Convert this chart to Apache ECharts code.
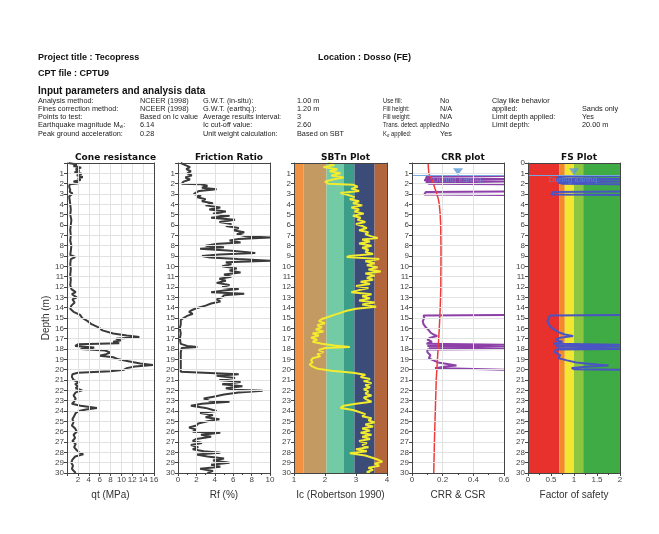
<!DOCTYPE html>
<html><head><meta charset="utf-8">
<script src="https://cdn.jsdelivr.net/npm/echarts@6/dist/echarts.min.js"></script>
<style>html,body{margin:0;padding:0;background:#fff}#c{width:659px;height:534px}</style>
</head><body><div id="c"></div>
<script>
// ---------- DATA (depth m, value) ----------
const qtProfile = [[0.0,0.3],[0.15,1.8],[0.3,1.2],[0.45,2.6],[0.6,1.6],[0.75,2.3],[0.9,1.4],[1.05,2.7],[1.2,1.8],[1.35,2.9],[1.5,2.0],[1.65,2.5],[1.8,1.2],[1.95,2.2],[2.05,0.5],[2.3,0.4],[2.6,0.6],[2.8,0.5],[2.95,1.0],[3.1,0.9],[3.25,0.4],[3.6,0.5],[4.0,0.6],[4.5,0.7],[5.0,0.6],[5.5,0.8],[6.0,0.7],[6.5,0.6],[7.0,0.7],[7.5,0.6],[8.0,0.8],[8.5,0.7],[8.9,0.6],[9.1,1.5],[9.3,0.7],[9.8,0.6],[10.3,0.7],[10.8,0.6],[11.3,0.7],[11.8,0.6],[12.2,0.8],[12.5,1.6],[12.7,0.9],[13.0,1.8],[13.2,1.0],[13.5,1.4],[13.8,0.8],[14.1,0.6],[14.4,1.2],[14.7,2.4],[15.0,2.8],[15.3,3.8],[15.6,4.5],[15.9,5.8],[16.2,6.5],[16.5,8.5],[16.7,11.0],[16.85,13.3],[17.0,9.0],[17.15,10.0],[17.3,8.5],[17.45,9.6],[17.55,2.0],[17.7,1.5],[17.85,5.0],[18.0,2.5],[18.15,7.0],[18.35,8.0],[18.5,7.2],[18.65,6.0],[18.8,8.5],[19.0,9.5],[19.2,11.5],[19.4,13.5],[19.55,15.8],[19.7,12.5],[19.85,11.0],[20.0,10.5],[20.15,8.0],[20.3,2.0],[20.45,1.0],[20.7,0.9],[21.0,1.2],[21.2,2.2],[21.4,1.5],[21.6,2.0],[21.8,1.6],[22.0,2.8],[22.2,1.6],[22.5,1.2],[22.8,1.6],[23.1,1.3],[23.3,0.9],[23.5,2.5],[23.7,5.5],[23.85,3.5],[24.0,2.2],[24.2,1.6],[24.5,1.3],[24.8,1.0],[25.1,1.2],[25.4,0.9],[25.7,1.5],[26.0,1.8],[26.3,1.2],[26.6,1.5],[26.9,1.0],[27.2,1.6],[27.5,1.3],[27.8,1.8],[28.0,2.2],[28.2,3.0],[28.4,1.5],[28.7,1.0],[29.0,0.8],[29.3,1.1],[29.6,0.9],[30.0,1.6]];

const rfProfile = [[0.0,0.3],[0.2,0.8],[0.4,1.3],[0.6,0.9],[0.8,1.4],[1.0,1.0],[1.2,1.5],[1.4,0.8],[1.6,1.3],[1.8,0.6],[2.0,0.4],[2.05,2.5],[2.2,3.2],[2.4,2.6],[2.55,4.2],[2.7,2.3],[2.85,2.0],[3.0,1.7],[3.15,2.5],[3.3,2.0],[3.5,3.0],[3.7,2.6],[3.9,3.8],[4.1,3.0],[4.3,4.6],[4.5,3.4],[4.7,5.2],[4.9,3.8],[5.1,5.6],[5.3,3.6],[5.5,6.2],[5.7,4.5],[5.9,5.8],[6.1,5.2],[6.3,6.6],[6.5,6.0],[6.7,7.2],[6.9,6.4],[7.1,7.4],[7.2,10.0],[7.35,6.6],[7.5,5.6],[7.7,6.8],[7.85,4.0],[8.0,3.0],[8.15,5.0],[8.3,2.4],[8.5,5.8],[8.7,8.4],[8.85,4.5],[9.0,2.6],[9.15,3.5],[9.3,6.5],[9.45,10.0],[9.6,5.2],[9.8,5.8],[10.0,4.8],[10.2,6.4],[10.4,5.6],[10.6,6.8],[10.8,5.0],[11.0,5.8],[11.2,4.5],[11.4,5.2],[11.6,4.2],[11.8,5.6],[12.0,4.8],[12.2,6.6],[12.35,5.0],[12.5,3.6],[12.65,7.2],[12.8,5.0],[13.0,4.8],[13.2,4.2],[13.4,4.6],[13.6,3.6],[13.8,3.0],[14.0,2.2],[14.2,1.6],[14.4,1.2],[14.6,1.6],[14.8,1.0],[15.0,0.6],[15.2,0.3],[15.6,0.3],[16.0,0.2],[16.5,0.3],[17.0,0.2],[17.5,0.3],[17.7,1.0],[17.8,2.1],[17.9,0.4],[18.3,0.3],[18.8,0.3],[19.3,0.3],[19.8,0.3],[20.2,0.3],[20.35,0.5],[20.45,6.6],[20.6,4.2],[20.8,6.2],[21.0,4.5],[21.2,6.8],[21.4,4.8],[21.6,7.0],[21.8,5.2],[21.95,6.2],[22.05,9.2],[22.2,6.6],[22.4,5.0],[22.6,4.0],[22.8,2.8],[23.0,3.4],[23.1,5.6],[23.3,2.6],[23.5,1.4],[23.7,3.0],[23.9,3.8],[24.0,4.2],[24.2,2.4],[24.4,3.8],[24.6,3.0],[24.8,4.5],[25.0,3.2],[25.2,2.2],[25.4,2.0],[25.6,1.2],[25.8,2.0],[26.0,1.6],[26.1,4.6],[26.3,2.5],[26.5,3.6],[26.7,2.0],[26.9,1.6],[27.1,2.6],[27.3,1.4],[27.5,2.2],[27.7,1.6],[27.9,2.8],[28.05,4.6],[28.2,2.0],[28.4,3.2],[28.6,5.0],[28.8,3.8],[29.0,5.6],[29.2,3.6],[29.4,4.6],[29.6,2.4],[29.8,3.8],[30.0,3.2]];

const icProfile = [[0.0,2.1],[0.2,2.3],[0.4,1.95],[0.6,2.4],[0.8,2.15],[1.0,2.5],[1.2,2.2],[1.4,2.6],[1.6,2.25],[1.8,2.0],[2.0,2.1],[2.1,2.9],[2.3,3.05],[2.5,2.85],[2.7,3.1],[2.9,2.5],[3.1,2.75],[3.3,2.95],[3.5,2.8],[3.7,3.1],[3.9,2.9],[4.1,3.2],[4.3,2.85],[4.5,3.1],[4.7,2.95],[4.9,3.25],[5.1,2.9],[5.3,3.15],[5.5,3.05],[5.7,3.3],[5.9,3.0],[6.1,3.2],[6.3,3.35],[6.5,3.1],[6.7,3.4],[6.9,3.3],[7.1,3.5],[7.25,3.7],[7.4,3.2],[7.6,3.45],[7.8,3.1],[8.0,3.5],[8.2,3.2],[8.4,3.4],[8.6,3.3],[8.8,3.55],[9.0,2.8],[9.1,2.7],[9.3,3.75],[9.5,3.3],[9.7,3.6],[9.9,3.35],[10.1,3.7],[10.3,3.4],[10.5,3.8],[10.7,3.3],[10.9,3.6],[11.1,3.35],[11.3,3.55],[11.5,3.15],[11.7,3.45],[11.9,3.0],[12.1,3.4],[12.3,3.1],[12.5,2.85],[12.7,3.5],[12.9,3.2],[13.1,3.45],[13.3,3.1],[13.5,3.6],[13.7,3.2],[13.9,3.65],[14.1,3.0],[14.3,2.7],[14.5,2.5],[14.7,2.3],[14.9,2.1],[15.1,1.9],[15.3,1.8],[15.5,2.0],[15.7,1.75],[15.9,1.9],[16.1,1.7],[16.3,1.95],[16.5,1.6],[16.7,1.8],[16.9,1.55],[17.1,1.75],[17.3,1.6],[17.5,1.9],[17.65,2.3],[17.8,2.8],[17.9,2.0],[18.1,1.8],[18.3,1.95],[18.5,1.75],[18.7,1.85],[18.9,1.6],[19.1,1.55],[19.3,1.6],[19.5,1.5],[19.7,1.6],[19.9,1.75],[20.1,2.2],[20.3,2.9],[20.5,3.3],[20.7,3.15],[20.9,3.45],[21.1,3.25],[21.3,3.5],[21.5,3.3],[21.7,3.45],[21.9,3.25],[22.1,3.4],[22.3,3.3],[22.5,3.5],[22.7,3.25],[22.9,3.35],[23.1,3.5],[23.3,3.0],[23.5,2.6],[23.7,2.5],[23.9,2.9],[24.1,3.1],[24.3,3.3],[24.5,3.2],[24.7,3.5],[24.9,3.4],[25.1,3.6],[25.3,3.3],[25.5,3.55],[25.7,3.2],[25.9,3.45],[26.1,3.15],[26.3,3.5],[26.5,3.2],[26.7,3.45],[26.9,3.1],[27.1,3.35],[27.3,3.2],[27.5,3.4],[27.7,3.0],[27.9,3.35],[28.1,2.8],[28.3,3.3],[28.5,3.5],[28.7,3.7],[28.9,3.85],[29.1,3.6],[29.3,3.75],[29.5,3.4],[29.7,3.55],[29.9,3.35],[30.0,3.45]];

const csrProfile = [[0,0.105],[0.5,0.107],[1.0,0.11],[1.5,0.125],[2.0,0.14],[2.5,0.15],[3.0,0.162],[3.5,0.172],[4.0,0.178],[5.0,0.184],[6.0,0.187],[7.0,0.188],[8.0,0.189],[9.0,0.189],[10.0,0.189],[11.0,0.188],[12.0,0.188],[13.0,0.186],[14.0,0.184],[15.0,0.181],[16.0,0.178],[17.0,0.174],[18.0,0.17],[19.0,0.166],[20.0,0.162],[21.0,0.158],[22.0,0.156],[23.0,0.154],[24.0,0.152],[25.0,0.15],[26.0,0.148],[27.0,0.146],[28.0,0.145],[29.0,0.143],[30.0,0.142]];

const crrProfile = [[1.25,0.6],[1.3,0.09],[1.4,0.12],[1.5,0.085],[1.55,0.6],[1.6,0.6],[1.65,0.08],[1.75,0.1],[1.8,0.6],[1.85,0.6],[1.9,0.09],[2.0,0.11],[2.05,0.6],null,[2.75,0.6],[2.8,0.09],[3.05,0.08],[3.1,0.6],null,[14.7,0.6],[14.75,0.075],[15.0,0.08],[15.3,0.07],[15.6,0.075],[15.9,0.09],[16.2,0.11],[16.4,0.12],[16.6,0.14],[16.75,0.165],[16.9,0.12],[17.1,0.1],[17.3,0.13],[17.5,0.095],[17.6,0.6],[17.7,0.1],[17.75,0.6],[17.85,0.6],[17.9,0.11],[18.0,0.6],[18.05,0.1],[18.3,0.1],[18.6,0.12],[18.9,0.11],[19.1,0.14],[19.3,0.17],[19.5,0.25],[19.6,0.29],[19.7,0.22],[19.85,0.15],[19.95,0.16],[20.0,0.6]];

const fsProfile = [[1.25,2],[1.3,0.65],[1.4,0.75],[1.5,0.62],[1.55,2],[1.6,2],[1.65,0.6],[1.75,0.7],[1.8,2],[1.85,2],[1.9,0.65],[2.0,0.75],[2.05,2],null,[2.75,2],[2.8,0.55],[3.05,0.5],[3.1,2],null,[14.7,2],[14.75,0.48],[15.0,0.45],[15.3,0.42],[15.6,0.45],[15.9,0.5],[16.2,0.6],[16.4,0.68],[16.6,0.8],[16.75,0.98],[16.9,0.7],[17.1,0.6],[17.3,0.75],[17.5,0.55],[17.6,2],[17.7,0.6],[17.75,2],[17.85,2],[17.9,0.65],[18.0,2],[18.05,0.6],[18.3,0.58],[18.6,0.7],[18.9,0.66],[19.1,0.85],[19.3,1.05],[19.5,1.5],[19.6,1.75],[19.7,1.35],[19.85,0.95],[19.95,1.0],[20.0,2]];

// SBTn zone boundaries (Ic) and FS band boundaries
const sbtBounds = [1, 1.31, 2.05, 2.6, 2.95, 3.6, 4];
const sbtColors = ['#f0923f', '#c39a62', '#72cba5', '#3c9d88', '#3b4c78', '#b3663c'];
const fsBounds = [0, 0.68, 0.8, 1.0, 1.2, 2];
const fsColors = ['#e8302d', '#f08a2b', '#f2e633', '#8cc641', '#3eab45'];

const gwtEarthquake = 1.2;      // m
const markerDepth = 0.85;       // m
const crrMarkerX = 0.3;
const fsMarkerX = 1.0;

// Header text
const headerTitles = [['Project title : Tecopress', 38, 58], ['Location : Dosso (FE)', 318, 58], ['CPT file : CPTU9', 38, 74]];
const paramCols = [
  {x: 38, rows: ['Analysis method:', 'Fines correction method:', 'Points to test:', 'Earthquake magnitude M{s|w}:', 'Peak ground acceleration:']},
  {x: 140, rows: ['NCEER (1998)', 'NCEER (1998)', 'Based on Ic value', '6.14', '0.28']},
  {x: 203, rows: ['G.W.T. (in-situ):', 'G.W.T. (earthq.):', 'Average results interval:', 'Ic cut-off value:', 'Unit weight calculation:']},
  {x: 297, rows: ['1.00 m', '1.20 m', '3', '2.60', 'Based on SBT']},
  {x: 383, rows: ['Use fill:', 'Fill height:', 'Fill weight:', 'Trans. detect. applied:', 'K{s|σ} applied:'], narrow: true},
  {x: 440, rows: ['No', 'N/A', 'N/A', 'No', 'Yes']},
  {x: 492, rows: ['Clay like behavior', 'applied:', 'Limit depth applied:', 'Limit depth:', '']},
  {x: 582, rows: ['', 'Sands only', 'Yes', '20.00 m', '']}
];
const rowY = [101, 109, 117, 125, 133.5];

// ---------- LAYOUT ----------
const TOP = 163, H = 310;
const panels = [
  {left: 67, width: 87, title: 'Cone resistance', xName: 'qt (MPa)', min: 0, max: 16, interval: 2, minor: 0, hideZero: true, grid: true},
  {left: 178, width: 92, title: 'Friction Ratio', xName: 'Rf (%)', min: 0, max: 10, interval: 2, minor: 2, grid: true},
  {left: 294, width: 93, title: 'SBTn Plot', xName: 'Ic (Robertson 1990)', min: 1, max: 4, interval: 1, minor: 0, grid: false},
  {left: 412, width: 92, title: 'CRR plot', xName: 'CRR & CSR', min: 0, max: 0.6, interval: 0.2, minor: 2, grid: true},
  {left: 528, width: 92, title: 'FS Plot', xName: 'Factor of safety', min: 0, max: 2, interval: 0.5, minor: 2, grid: false}
];

const FONT = '"Liberation Sans", Arial, sans-serif';
const grids = [], xAxes = [], yAxes = [], titles = [];
panels.forEach((p, i) => {
  grids.push({left: p.left, top: TOP, width: p.width, height: H, containLabel: false});
  titles.push({text: p.title, left: p.left + p.width / 2, top: 148, textAlign: 'center',
    textStyle: {fontSize: 9, fontWeight: 'bold', fontFamily: '"DejaVu Sans", Verdana, sans-serif', color: '#111'}});
  xAxes.push({gridIndex: i, type: 'value', position: 'bottom', min: p.min, max: p.max, interval: p.interval, z: 10,
    axisLine: {show: true, onZero: false, lineStyle: {color: '#444', width: 1}},
    axisTick: {show: true, inside: false, length: 3, lineStyle: {color: '#444'}},
    minorTick: {show: p.minor > 0, splitNumber: p.minor || 5, length: 2, lineStyle: {color: '#444'}},
    axisLabel: {fontSize: 8, color: '#444', margin: 3, fontFamily: FONT,
      formatter: v => (p.hideZero && v === 0) ? '' : String(v)},
    splitLine: {show: p.grid, lineStyle: {color: '#e2e2e2', width: 1}},
    name: p.xName, nameLocation: 'middle', nameGap: 17,
    nameTextStyle: {fontSize: 10, color: '#333', fontFamily: FONT}});
  xAxes.push({gridIndex: i, type: 'value', position: 'top', min: p.min, max: p.max, z: 10,
    axisLine: {show: true, onZero: false, lineStyle: {color: '#444', width: 1}},
    axisTick: {show: false}, axisLabel: {show: false}, splitLine: {show: false}});
  yAxes.push({gridIndex: i, type: 'value', inverse: true, min: 0, max: 30, interval: 1, z: 10,
    axisLine: {show: true, onZero: false, lineStyle: {color: '#444', width: 1}},
    axisTick: {show: true, inside: false, length: 3, lineStyle: {color: '#444'}},
    axisLabel: {fontSize: 8, color: '#444', margin: 3, fontFamily: FONT,
      formatter: v => (i < 4 && v === 0) ? '' : String(v)},
    splitLine: {show: p.grid, lineStyle: {color: '#e2e2e2', width: 1}},
    name: i === 0 ? 'Depth (m)' : '', nameLocation: 'middle', nameGap: 16, nameRotate: 90,
    nameTextStyle: {fontSize: 10, color: '#333', fontFamily: FONT}});
  yAxes.push({gridIndex: i, type: 'value', position: 'right', inverse: true, min: 0, max: 30, z: 10,
    axisLine: {show: true, onZero: false, lineStyle: {color: '#444', width: 1}},
    axisTick: {show: false}, axisLabel: {show: false}, splitLine: {show: false}});
});

const toXY = arr => arr.map(d => d === null ? ['-', '-'] : [d[1], d[0]]);
const bandAreas = (bounds, colors) => colors.map((c, k) => [
  {xAxis: bounds[k], yAxis: 0, itemStyle: {color: c, opacity: 1}},
  {xAxis: bounds[k + 1], yAxis: 30}
]);
const lineS = (idx, data, color, width, z) => ({type: 'line', xAxisIndex: idx * 2, yAxisIndex: idx * 2,
  data: toXY(data), showSymbol: false, symbol: 'none', clip: true, connectNulls: false, z: z || 3,
  lineStyle: {color: color, width: width}, silent: true, animation: false});

const series = [
  lineS(0, qtProfile, '#3a3a3a', 2),
  lineS(1, rfProfile, '#3a3a3a', 2),
  {type: 'line', xAxisIndex: 4, yAxisIndex: 4, data: [], z: 1, silent: true,
    markArea: {silent: true, data: bandAreas(sbtBounds, sbtColors)}},
  lineS(2, icProfile, '#f3ec2e', 2),
  Object.assign(lineS(3, csrProfile, '#f03a3a', 1.5, 4), {
    markLine: {silent: true, symbol: 'none', label: {show: false},
      lineStyle: {color: '#7aa6e0', width: 1, type: 'solid'}, data: [{yAxis: gwtEarthquake}]}}),
  lineS(3, crrProfile, '#8c40a8', 2),
  {type: 'line', xAxisIndex: 8, yAxisIndex: 8, data: [], z: 1, silent: true,
    markArea: {silent: true, data: bandAreas(fsBounds, fsColors)}},
  Object.assign(lineS(4, fsProfile, '#4a54c2', 2), {
    markLine: {silent: true, symbol: 'none', label: {show: false},
      lineStyle: {color: '#7aa6e0', width: 1, type: 'solid'}, data: [{yAxis: gwtEarthquake}]}}),
  {type: 'scatter', xAxisIndex: 6, yAxisIndex: 6, data: [[crrMarkerX, markerDepth]], symbol: 'triangle', symbolRotate: 180,
    symbolSize: [10, 7], itemStyle: {color: '#5b9bd5'}, z: 6, silent: true,
    label: {show: true, position: 'bottom', distance: 1, formatter: 'During earthq.', fontSize: 8, color: '#6a9fe0', fontFamily: FONT}},
  {type: 'scatter', xAxisIndex: 8, yAxisIndex: 8, data: [[fsMarkerX, markerDepth]], symbol: 'triangle', symbolRotate: 180,
    symbolSize: [10, 7], itemStyle: {color: '#5b9bd5'}, z: 6, silent: true,
    label: {show: true, position: 'bottom', distance: 1, formatter: 'During earthq.', fontSize: 8, color: '#5b8fe0', fontFamily: FONT}}
];

// graphic header texts
const graphics = [];
headerTitles.forEach(t => graphics.push({type: 'text', x: t[1], y: t[2], silent: true,
  style: {text: t[0], fontSize: 9, fontWeight: 'bold', fontFamily: FONT, fill: '#111', verticalAlign: 'middle'}}));
graphics.push({type: 'text', x: 38, y: 91, silent: true,
  style: {text: 'Input parameters and analysis data', fontSize: 10, fontWeight: 'bold', fontFamily: FONT, fill: '#111', verticalAlign: 'middle'}});
paramCols.forEach(col => col.rows.forEach((r, k) => {
  if (!r) return;
  graphics.push({type: 'text', x: col.x, y: rowY[k], silent: true, scaleX: col.narrow ? 0.8 : 1,
    style: {text: r, fontSize: 7.3, fontFamily: FONT, fill: '#222', verticalAlign: 'middle',
      rich: {s: {fontSize: 5, fontFamily: FONT, fill: '#222', padding: [4, 0, 0, 0]}}}});
}));

const chart = echarts.init(document.getElementById('c'), null, {renderer: 'canvas'});
chart.setOption({
  animation: false,
  backgroundColor: '#ffffff',
  title: titles,
  grid: grids,
  xAxis: xAxes,
  yAxis: yAxes,
  series: series,
  graphic: graphics
});
</script></body></html>
